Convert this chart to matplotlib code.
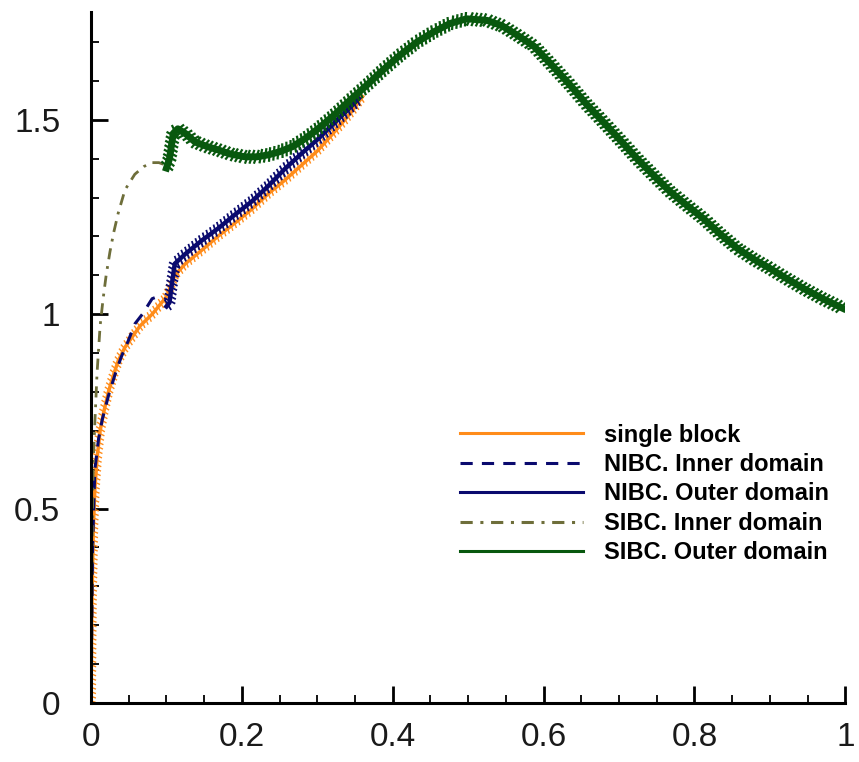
import matplotlib
matplotlib.use("Agg")
import matplotlib.pyplot as plt
import matplotlib.patheffects as pe
from matplotlib.ticker import MultipleLocator

plt.rcParams['font.family'] = ['Liberation Sans', 'DejaVu Sans']

# single block
x_single = [0, 0.001, 0.003, 0.005, 0.008, 0.012, 0.017, 0.023, 0.03, 0.036, 0.045,
            0.054, 0.065, 0.081, 0.1, 0.111, 0.125, 0.147, 0.168, 0.191, 0.213,
            0.235, 0.257, 0.28, 0.3, 0.314, 0.33, 0.345, 0.36]
y_single = [0, 0.25, 0.45, 0.55, 0.63, 0.70, 0.75, 0.80, 0.845, 0.88, 0.915,
            0.94, 0.97, 1.0, 1.045, 1.1, 1.13, 1.165, 1.2, 1.235, 1.27,
            1.31, 1.345, 1.385, 1.42, 1.45, 1.485, 1.52, 1.56]

# NIBC inner / outer domain
x_nibc_in = [0, 0.002, 0.005, 0.01, 0.015, 0.023, 0.032, 0.04, 0.049, 0.058,
             0.068, 0.081, 0.088, 0.095]
y_nibc_in = [0, 0.4, 0.6, 0.68, 0.73, 0.79, 0.846, 0.89, 0.93, 0.975,
             1.0, 1.04, 1.045, 1.045]
x_nibc_out = [0.1, 0.104, 0.108, 0.111, 0.125, 0.147, 0.168, 0.19, 0.213, 0.235,
              0.257, 0.28, 0.301, 0.324, 0.34, 0.355]
y_nibc_out = [1.02, 1.03, 1.09, 1.13, 1.155, 1.19, 1.22, 1.255, 1.29, 1.33,
              1.374, 1.415, 1.451, 1.495, 1.525, 1.555]

# SIBC inner / outer domain
x_sibc_in = [0, 0.001, 0.002, 0.003, 0.005, 0.008, 0.012, 0.016, 0.02, 0.025,
             0.03, 0.036, 0.045, 0.058, 0.07, 0.081, 0.09, 0.097, 0.101]
y_sibc_in = [0, 0.3, 0.5, 0.62, 0.72, 0.85, 0.97, 1.04, 1.10, 1.16,
             1.21, 1.26, 1.32, 1.36, 1.38, 1.39, 1.39, 1.385, 1.376]
x_sibc_out = [0.1, 0.104, 0.109, 0.115, 0.125, 0.138, 0.153, 0.168, 0.185, 0.204,
              0.22, 0.235, 0.25, 0.267, 0.284, 0.301, 0.321, 0.343, 0.366, 0.388,
              0.41, 0.432, 0.454, 0.476, 0.498, 0.525, 0.545, 0.565, 0.587, 0.609,
              0.635, 0.657, 0.679, 0.702, 0.724, 0.746, 0.768, 0.79, 0.812, 0.835,
              0.857, 0.88, 0.9, 0.922, 0.944, 0.97, 0.997]
y_sibc_out = [1.376, 1.40, 1.465, 1.477, 1.465, 1.443, 1.432, 1.423, 1.412, 1.405,
              1.405, 1.41, 1.418, 1.431, 1.452, 1.477, 1.51, 1.55, 1.59, 1.63,
              1.667, 1.70, 1.726, 1.748, 1.76, 1.756, 1.742, 1.718, 1.69, 1.645,
              1.59, 1.54, 1.495, 1.447, 1.40, 1.357, 1.315, 1.28, 1.246, 1.205,
              1.169, 1.14, 1.118, 1.092, 1.067, 1.04, 1.015]

x_ticks = [0, 0.2, 0.4, 0.6, 0.8, 1.0]
x_labels = ['0', '0.2', '0.4', '0.6', '0.8', '1']
y_ticks = [0, 0.5, 1.0, 1.5]
y_labels = ['0', '0.5', '1', '1.5']

orange = '#FF8C1A'
navy = '#0A0A6E'
olive = '#6E6E3A'
green = '#08580E'


def jagged(color, lw, length):
    return [pe.TickedStroke(spacing=3.2, angle=70, length=length, linewidth=lw, foreground=color),
            pe.TickedStroke(spacing=3.2, angle=-110, length=length, linewidth=lw, foreground=color),
            pe.Normal()]


fig = plt.figure(figsize=(8.59, 7.62), dpi=100)
ax = fig.add_axes([0.106, 0.0775, 0.878, 0.907])

ax.plot(x_single, y_single, '-', color=orange, lw=2.5, label='single block',
        path_effects=jagged(orange, 1.0, 1.0))
ax.plot(x_nibc_in, y_nibc_in, '--', color=navy, lw=2.2, dashes=(4, 3),
        label='NIBC. Inner domain')
ax.plot(x_nibc_out, y_nibc_out, '-', color=navy, lw=3.2, label='NIBC. Outer domain',
        path_effects=jagged(navy, 1.3, 1.2))
ax.plot(x_sibc_in, y_sibc_in, '-.', color=olive, lw=2.0, dashes=(4, 2.5, 1, 2.5),
        label='SIBC. Inner domain')
ax.plot(x_sibc_out, y_sibc_out, '-', color=green, lw=5.0, label='SIBC. Outer domain',
        path_effects=jagged(green, 1.6, 1.4))

ax.set_xlim(0, 1)
ax.set_ylim(0, 1.778)
ax.spines['top'].set_visible(False)
ax.spines['right'].set_visible(False)
ax.spines['left'].set_linewidth(2.2)
ax.spines['bottom'].set_linewidth(2.2)

ax.set_xticks(x_ticks)
ax.set_xticklabels(x_labels)
ax.set_yticks(y_ticks)
ax.set_yticklabels(y_labels)
ax.xaxis.set_minor_locator(MultipleLocator(0.05))
ax.yaxis.set_minor_locator(MultipleLocator(0.1))
ax.tick_params(which='major', direction='in', length=12, width=2, labelsize=24,
               labelcolor='#1a1a1a')
ax.tick_params(which='minor', direction='in', length=6, width=1.3)
ax.tick_params(axis='x', which='major', pad=14)
ax.tick_params(axis='y', which='major', pad=22)

leg = ax.legend(loc='upper left', bbox_to_anchor=(0.5355, 0.444),
                bbox_transform=fig.transFigure, frameon=False, borderpad=0,
                borderaxespad=0, handlelength=5.2, handletextpad=0.9,
                labelspacing=0.27, prop={'size': 17, 'weight': 'bold'})
for h in leg.get_lines():
    h.set_path_effects([])
    h.set_linewidth(2.2)

fig.savefig('out.png', dpi=100)
